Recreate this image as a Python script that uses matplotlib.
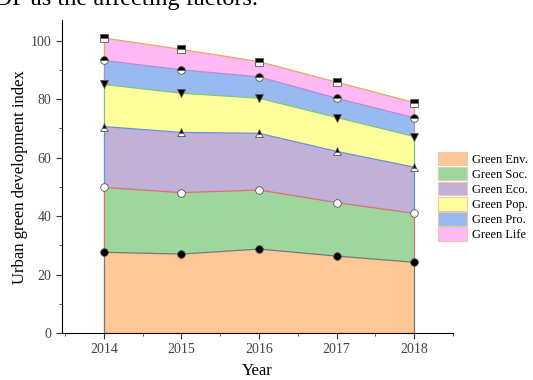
import matplotlib
matplotlib.use("Agg")
import matplotlib.pyplot as plt
import numpy as np
from matplotlib.patches import Patch
from matplotlib.ticker import MultipleLocator

plt.rcParams['font.family'] = ['Liberation Serif', 'DejaVu Serif']

years = [2014, 2015, 2016, 2017, 2018]
labels = ["Green Env.", "Green Soc.", "Green Eco.", "Green Pop.", "Green Pro.", "Green Life"]
env = [27.6, 27.0, 28.7, 26.3, 24.2]
soc = [22.2, 21.0, 20.2, 18.3, 16.7]
eco = [20.8, 20.6, 19.4, 17.5, 15.8]
pop = [14.4, 13.4, 12.0, 11.6, 10.5]
pro = [8.2, 8.0, 7.3, 6.6, 6.4]
life = [7.7, 7.0, 5.2, 5.5, 5.2]

fills = ["#FDC896", "#9ED79D", "#C1B1D7", "#FFFF9C", "#99B9F1", "#FFB9F5"]
lines = ["#777777", "#E07070", "#6A8FE0", "#7CC87C", "#B08FD8", "#E8A860"]
markers = [("o", "full", "black", "black"), ("o", "full", "white", "white"),
           ("^", "top", "black", "white"), ("v", "full", "black", "black"),
           ("o", "top", "black", "white"), ("s", "top", "black", "white")]

fig = plt.figure(figsize=(5.33, 3.8), dpi=100)
ax = fig.add_axes([0.1163, 0.1237, 0.85 - 0.1163, 0.947 - 0.1237])

series = [env, soc, eco, pop, pro, life]
x = np.array(years)
base = np.zeros(len(years))
tops = []
for i, s in enumerate(series):
    top = base + np.array(s)
    ax.fill_between(x, base, top, facecolor=fills[i], lw=0, zorder=1)
    tops.append((base.copy(), top.copy()))
    base = top
for i, (b, t) in enumerate(tops):
    ax.plot(x, t, color=lines[i], lw=0.9, zorder=2)
    ax.vlines([x[0], x[-1]], [b[0], b[-1]], [t[0], t[-1]], color=lines[i], lw=0.9, zorder=2)
for i, (b, t) in enumerate(tops):
    m, fs, fc, alt = markers[i]
    ax.plot(x, t, ls='none', marker=m, ms=5.5, fillstyle=fs, markerfacecolor=fc,
            markerfacecoloralt=alt, markeredgecolor="#555555", markeredgewidth=0.6, zorder=3,
            clip_on=False)

ax.set_xlim(2013.46, 2018.5)
ax.set_ylim(0, 107)
ax.spines['top'].set_visible(False)
ax.spines['right'].set_visible(False)
ax.xaxis.set_major_locator(MultipleLocator(1))
ax.xaxis.set_minor_locator(MultipleLocator(0.5))
ax.yaxis.set_major_locator(MultipleLocator(20))
ax.yaxis.set_minor_locator(MultipleLocator(10))
ax.tick_params(which='both', direction='out', colors='#333333', labelcolor='#444444', labelsize=10)
ax.tick_params(which='major', length=4)
ax.tick_params(which='minor', length=2.5)
ax.set_xticks(years)
ax.set_xticklabels([str(y) for y in years])
ax.set_xlabel("Year", fontsize=12, labelpad=5)
ax.set_ylabel("Urban green development index", fontsize=12, labelpad=2)

handles = [Patch(facecolor=fills[i], edgecolor="#E8C8B0", lw=0.8) for i in range(6)]
fig.legend(handles, labels, loc='upper left', bbox_to_anchor=(0.80, 0.63), frameon=False,
           fontsize=8.9, handlelength=2.4, handleheight=1.3, labelspacing=0.1, handletextpad=0.4)

fig.text(258 / 533, 1 - 5 / 380, "GDP as the affecting factors.", ha='right', va='baseline', fontsize=17.5)

fig.savefig("out.png", dpi=100)
